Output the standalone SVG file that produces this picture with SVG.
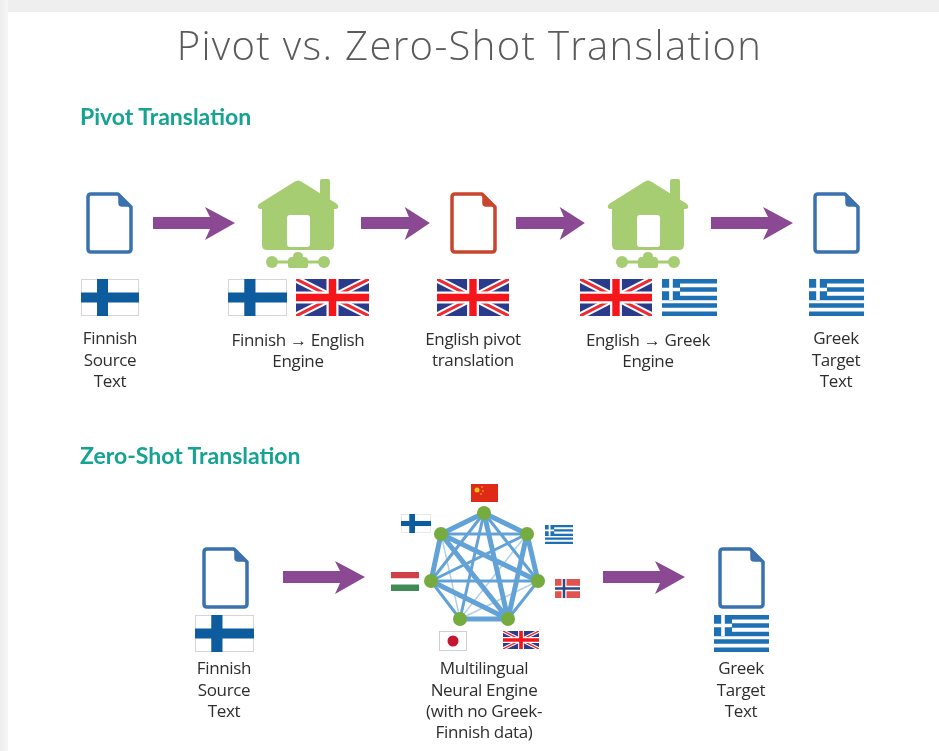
<svg xmlns="http://www.w3.org/2000/svg" xmlns:xlink="http://www.w3.org/1999/xlink" width="939" height="751" viewBox="0 0 939 751">
<style>
text{font-family:"Open Sans","Liberation Sans",sans-serif;text-anchor:middle}
.t{font-size:17px;fill:#2e2e2e;letter-spacing:-.35px}
.h{font-family:"Lato","Liberation Sans",sans-serif;font-size:23px;font-weight:700;fill:#13a391;text-anchor:start}
.title{font-size:40px;font-weight:300;fill:#5a5a5a;letter-spacing:1.33px}
.doc{fill:#fff;stroke:#3b71ad;color:#3b71ad;stroke-width:3.5;stroke-linejoin:round}
.docr{stroke:#c8452f;color:#c8452f}
.fold{fill:currentColor;stroke-width:1.500}
.arrow{fill:#8a4a92}
.house{fill:#a6cd72}
.e{stroke:#62a2d6;fill:none}
.a{stroke-width:5}.b{stroke-width:3}.c{stroke-width:1.500;stroke:#b3d0e9}
.n{fill:#76ab3f}
</style>
<defs>
<filter id="soft" x="-5%" y="-5%" width="110%" height="110%"><feGaussianBlur stdDeviation="0.6"/></filter>
<linearGradient id="leftshade" x1="0" y1="0" x2="1" y2="0"><stop offset="0" stop-color="#eeeeee"/><stop offset="1" stop-color="#f6f6f6"/></linearGradient>
<symbol id="fi" viewBox="0 0 58 37" preserveAspectRatio="none"><rect width="58" height="37" fill="#fff"/><rect x=".5" y=".5" width="57" height="36" fill="none" stroke="#d5d5d5"/><rect x="16" width="11" height="37" fill="#0a5b9e"/><rect y="13.500" width="58" height="10" fill="#0a5b9e"/></symbol>
<symbol id="uk" viewBox="0 0 73 37" preserveAspectRatio="none"><rect width="73" height="37" fill="#2a3a8c"/><path d="M0 0L73 37M73 0L0 37" stroke="#fff" stroke-width="7"/><path d="M0 0L73 37M73 0L0 37" stroke="#ee2b30" stroke-width="3"/><path d="M36.500 0V37M0 18.500H73" stroke="#fff" stroke-width="12"/><path d="M36.500 0V37M0 18.500H73" stroke="#f5141c" stroke-width="7.500"/></symbol>
<symbol id="gr" viewBox="0 0 55 37" preserveAspectRatio="none"><rect width="55" height="37" fill="#fff"/><path d="M0 2.200H55M0 10.500H55M0 19H55M0 26.500H55M0 34.800H55" stroke="#1f6fb3" stroke-width="4.400"/><rect width="18" height="21" fill="#1f6fb3"/><path d="M9 0V21M0 10.500H18" stroke="#fff" stroke-width="3.600"/></symbol>
<symbol id="cn" viewBox="0 0 27 18" preserveAspectRatio="none"><rect width="27" height="18" fill="#de2c14"/><circle cx="6" cy="6" r="2.500" fill="#f6c21c"/><circle cx="11" cy="3" r=".8" fill="#f6c21c"/><circle cx="12" cy="7" r=".8" fill="#f6c21c"/><circle cx="10" cy="10" r=".8" fill="#f6c21c"/></symbol>
<symbol id="hu" viewBox="0 0 28 19" preserveAspectRatio="none"><rect width="28" height="6.500" fill="#d0404a"/><rect y="6.500" width="28" height="6" fill="#fff"/><rect y="12.500" width="28" height="6.500" fill="#3f8a55"/></symbol>
<symbol id="no" viewBox="0 0 25 18" preserveAspectRatio="none"><rect width="25" height="18" fill="#e0524f"/><path d="M9 0V18M0 9H25" stroke="#fff" stroke-width="5"/><path d="M9 0V18M0 9H25" stroke="#2d4a86" stroke-width="2.500"/></symbol>
<symbol id="jp" viewBox="0 0 28 20" preserveAspectRatio="none"><rect x=".5" y=".5" width="27" height="19" fill="#fff" stroke="#d0d0d0"/><circle cx="14" cy="10" r="5.500" fill="#c4122f"/></symbol>
<g id="docshape"><path d="M0 3Q0 0 3 0H30L43 13V55Q43 58 40 58H3Q0 58 0 55Z"/><path class="fold" d="M31 1L42 12H34Q31 12 31 9Z"/></g>
<g id="houseshape"><path class="house" d="M62 2Q62 0 64 0H70Q72 0 72 2V24L62 16Z"/><path class="house" d="M36 3Q40 0 44 3L79 25Q82 29 78 30H76V66Q76 71 71 71H9Q4 71 4 66V30H2Q-2 29 1 25Z"/><rect x="29" y="36" width="23" height="32" rx="3" fill="#fff"/><circle cx="14" cy="83" r="6" class="house"/><circle cx="66" cy="83" r="6" class="house"/><rect x="14" y="81.500" width="52" height="3" class="house"/><path class="house" d="M30 87Q30 89 32 89H48Q50 89 50 87V82Q50 78 46 78H45Q45 73 40 73Q35 73 35 78H34Q30 78 30 82Z"/></g>
<path id="arrowshape" d="M0 -6H57L52 -16L82 0L52 17L57 6H0Z"/>
</defs>

<rect width="939" height="751" fill="#fff"/>
<rect width="939" height="12" fill="#efefef"/>
<rect width="8" height="751" fill="url(#leftshade)"/>

<g filter="url(#soft)">
<text class="title" x="469.500" y="60">Pivot vs. Zero-Shot Translation</text>
<text class="h" x="80" y="125">Pivot Translation</text>
<text class="h" x="80" y="464">Zero-Shot Translation</text>

<g id="connectors">
<use href="#arrowshape" class="arrow" transform="translate(153,223)"/>
<use href="#arrowshape" class="arrow" transform="translate(361,223) scale(.84,1)"/>
<use href="#arrowshape" class="arrow" transform="translate(516,223) scale(.84,1)"/>
<use href="#arrowshape" class="arrow" transform="translate(711,223)"/>
<use href="#arrowshape" class="arrow" transform="translate(283,577)"/>
<use href="#arrowshape" class="arrow" transform="translate(603,577)"/>
</g>

<g id="finnish-source">
<use href="#docshape" class="doc" x="88" y="194"/>
<use href="#fi" x="81" y="279" width="58" height="37"/>
<text class="t" x="110" y="344">Finnish</text><text class="t" x="110" y="366">Source</text><text class="t" x="110" y="387">Text</text>
</g>
<g id="fi-en-engine">
<use href="#houseshape" x="258" y="179"/>
<use href="#fi" x="228" y="279" width="59" height="37"/>
<use href="#uk" x="296" y="279" width="73" height="37"/>
<text class="t" x="298" y="346">Finnish → English</text><text class="t" x="298" y="367">Engine</text>
</g>
<g id="english-pivot">
<use href="#docshape" class="doc docr" x="452" y="194"/>
<use href="#uk" x="437" y="279" width="72" height="37"/>
<text class="t" x="473" y="345">English pivot</text><text class="t" x="473" y="366">translation</text>
</g>
<g id="en-gr-engine">
<use href="#houseshape" x="608" y="179"/>
<use href="#uk" x="580" y="279" width="72" height="37"/>
<use href="#gr" x="662" y="279" width="55" height="37"/>
<text class="t" x="648" y="346">English → Greek</text><text class="t" x="648" y="367">Engine</text>
</g>
<g id="greek-target">
<use href="#docshape" class="doc" x="815" y="194"/>
<use href="#gr" x="809" y="279" width="55" height="37"/>
<text class="t" x="836" y="344">Greek</text><text class="t" x="836" y="366">Target</text><text class="t" x="836" y="387">Text</text>
</g>

<g id="finnish-source-2">
<use href="#docshape" class="doc" x="204" y="549"/>
<use href="#fi" x="195" y="615" width="59" height="37"/>
<text class="t" x="224" y="674">Finnish</text><text class="t" x="224" y="696">Source</text><text class="t" x="224" y="717">Text</text>
</g>
<g id="multilingual-engine">
<use href="#cn" x="471" y="484" width="27" height="18"/>
<use href="#fi" x="401" y="514" width="30" height="19"/>
<use href="#gr" x="545" y="525" width="28" height="19"/>
<use href="#hu" x="391" y="572" width="28" height="19"/>
<use href="#no" x="555" y="579" width="25" height="19"/>
<use href="#jp" x="439" y="631" width="28" height="20"/>
<use href="#uk" x="503" y="631" width="36" height="18"/>
<g>
<path class="e c" d="M441 534L460 619M527 534L460 619M538 581L460 619"/>
<path class="e b" d="M484 513L431 581M484 513L460 619M484 513L538 581M441 534L527 534M431 581L527 534M431 581L538 581M538 581L508 619M431 581L460 619"/>
<path class="e a" d="M484 513L441 534M484 513L527 534M484 513L508 619M441 534L431 581M441 534L508 619M441 534L538 581M527 534L538 581M527 534L508 619M460 619L508 619M431 581L508 619"/>
<circle class="n" cx="484" cy="513" r="7"/><circle class="n" cx="441" cy="534" r="7"/><circle class="n" cx="527" cy="534" r="7"/><circle class="n" cx="431" cy="581" r="7"/><circle class="n" cx="538" cy="581" r="7"/><circle class="n" cx="460" cy="619" r="7"/><circle class="n" cx="508" cy="619" r="7"/>
</g>
<text class="t" x="484" y="674">Multilingual</text><text class="t" x="484" y="696">Neural Engine</text><text class="t" x="484" y="717">(with no Greek-</text><text class="t" x="484" y="738">Finnish data)</text>
</g>
<g id="greek-target-2">
<use href="#docshape" class="doc" x="720" y="549"/>
<use href="#gr" x="714" y="615" width="55" height="37"/>
<text class="t" x="741" y="674">Greek</text><text class="t" x="741" y="696">Target</text><text class="t" x="741" y="717">Text</text>
</g>
</g>
</svg>
